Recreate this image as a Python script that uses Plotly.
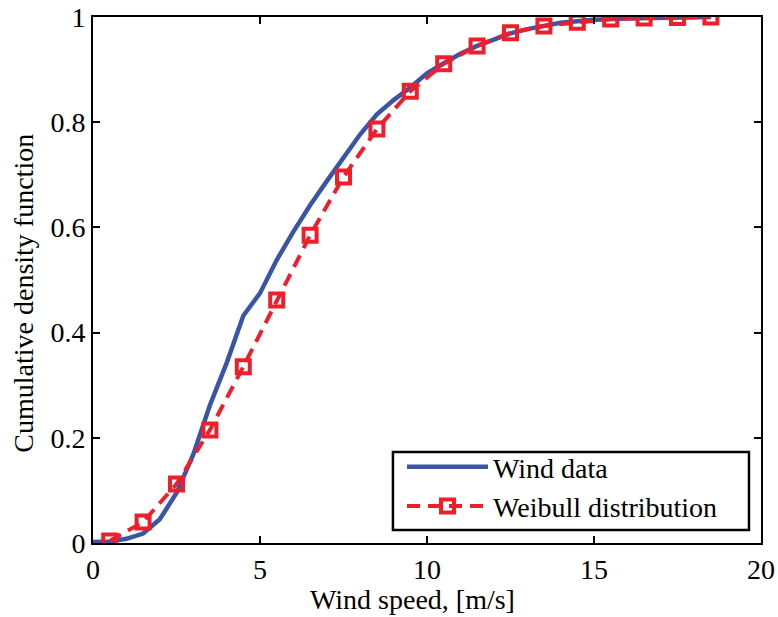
import plotly.graph_objects as go

# Empirical CDF of the measured wind speeds
wind_speed = [0, 0.5, 1.0, 1.5, 2.0, 2.5, 3.0, 3.5, 4.0, 4.5, 5.0, 5.5, 6.0, 6.5, 7.0,
              7.5, 8.0, 8.5, 9.0, 9.5, 10.0, 10.5, 11.0, 11.5, 12.0, 12.5, 13.0, 13.5,
              14.0, 14.5, 15.0, 16.0, 17.0, 18.0, 18.5]
wind_cdf = [0.002, 0.003, 0.008, 0.018, 0.045, 0.095, 0.168, 0.262, 0.342, 0.432, 0.475,
            0.538, 0.592, 0.642, 0.688, 0.732, 0.777, 0.815, 0.842, 0.866, 0.893, 0.912,
            0.930, 0.945, 0.958, 0.969, 0.977, 0.984, 0.989, 0.992, 0.995, 0.997, 0.999,
            1.0, 1.0]

# Fitted Weibull CDF at bin centres
weibull_speed = [0.5, 1.5, 2.5, 3.5, 4.5, 5.5, 6.5, 7.5, 8.5, 9.5, 10.5, 11.5, 12.5,
                 13.5, 14.5, 15.5, 16.5, 17.5, 18.5]
weibull_cdf = [0.004, 0.040, 0.112, 0.215, 0.335, 0.462, 0.585, 0.696, 0.787, 0.859,
               0.911, 0.945, 0.970, 0.983, 0.990, 0.996, 0.998, 0.999, 1.0]

x_ticks = [0, 5, 10, 15, 20]
y_ticks = [0, 0.2, 0.4, 0.6, 0.8, 1]
y_tick_text = ["0", "0.2", "0.4", "0.6", "0.8", "1"]

BLUE = "#3a55a5"
RED = "#ee1f2b"
FONT = "Liberation Serif"
FS = 28
TXT = dict(family=FONT, size=FS, color="black")

fig = go.Figure()
fig.add_trace(go.Scatter(
    x=wind_speed, y=wind_cdf, mode="lines", name="Wind data",
    line=dict(color=BLUE, width=4.5),
))
fig.add_trace(go.Scatter(
    x=weibull_speed, y=weibull_cdf, mode="lines+markers", name="Weibull distribution",
    line=dict(color=RED, width=4, dash="13px,8px"),
    marker=dict(symbol="square-open", size=13, color=RED, line=dict(color=RED, width=4)),
))

axis_common = dict(
    showline=True, linecolor="black", linewidth=2, mirror="ticks",
    ticks="inside", ticklen=7, tickwidth=1.5, tickcolor="black",
    showgrid=False, zeroline=False, automargin=False,
    tickfont=TXT,
)

fig.update_xaxes(range=[0, 20], tickvals=x_ticks, **axis_common)
fig.update_yaxes(range=[0, 1], tickvals=y_ticks, ticktext=y_tick_text, **axis_common)

# Axis titles
fig.add_annotation(text="Wind speed, [m/s]", xref="paper", yref="paper",
                   x=0.479, y=-0.108, xanchor="center", yanchor="middle",
                   showarrow=False, font=TXT)
fig.add_annotation(text="Cumulative density function", xref="paper", yref="paper",
                   x=-0.104, y=0.475, xanchor="center", yanchor="middle",
                   textangle=-90, showarrow=False, font=TXT)

# Legend frame
fig.add_shape(type="rect", xref="paper", yref="paper",
              x0=0.449, x1=0.982, y0=0.0247, y1=0.173,
              line=dict(color="black", width=2.5), fillcolor="white", layer="above")

fig.update_layout(
    width=778, height=617,
    margin=dict(l=93, r=17, t=17, b=74),
    paper_bgcolor="white", plot_bgcolor="white",
    showlegend=True,
    legend=dict(
        x=0.4626, y=0.192, xanchor="left", yanchor="top",
        bgcolor="rgba(0,0,0,0)", borderwidth=0,
        font=TXT, itemwidth=81, tracegroupgap=0,
    ),
)

fig.write_html("out.html")
